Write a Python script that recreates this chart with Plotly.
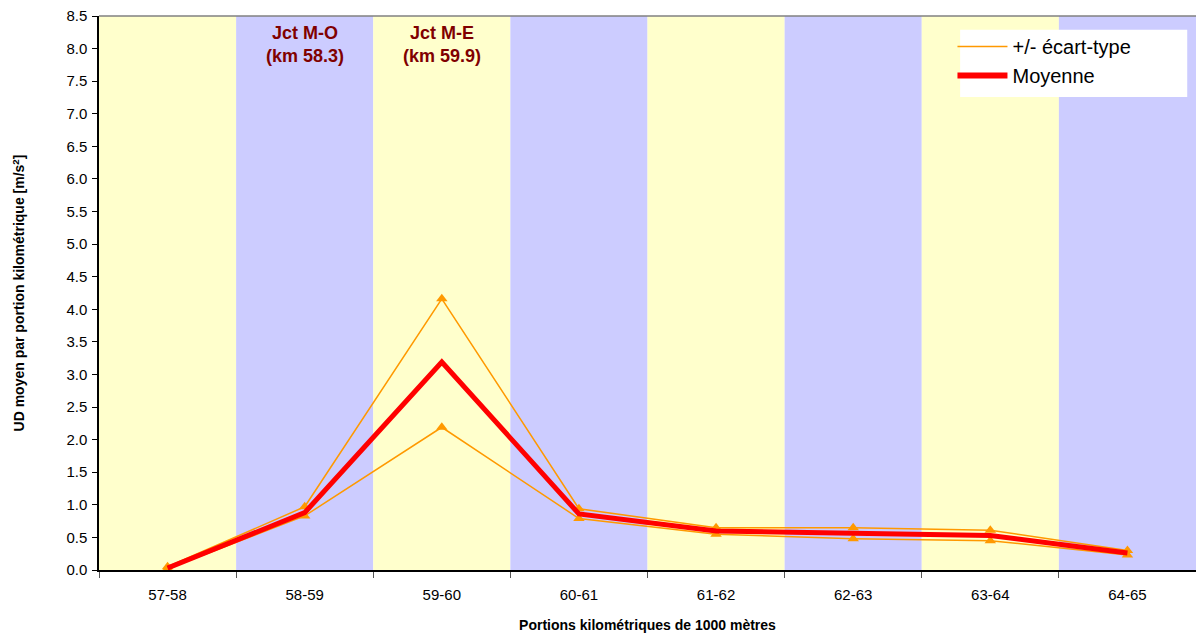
import plotly.graph_objects as go

categories = ["57-58", "58-59", "59-60", "60-61", "61-62", "62-63", "63-64", "64-65"]
mean_vals = [0.03, 0.88, 3.19, 0.86, 0.60, 0.56, 0.53, 0.26]
upper_vals = [0.05, 0.97, 4.16, 0.94, 0.65, 0.65, 0.61, 0.30]
lower_vals = [0.02, 0.83, 2.19, 0.79, 0.55, 0.48, 0.45, 0.23]
band_colors = ["#FFFFCC", "#CCCCFF"]
annotations_txt = [("58-59", "Jct M-O<br>(km 58.3)"), ("59-60", "Jct M-E<br>(km 59.9)")]

fig = go.Figure()

shapes = []
for i, c in enumerate(categories):
    shapes.append(dict(type="rect", xref="x", yref="paper", x0=i - 0.5, x1=i + 0.5, y0=0, y1=1,
                       fillcolor=band_colors[i % 2], line=dict(width=0), layer="below"))
shapes.append(dict(type="line", xref="paper", yref="paper", x0=0, x1=1, y0=1, y1=1,
                   line=dict(color="#808080", width=1.5)))
# legend box background
shapes.append(dict(type="rect", xref="paper", yref="paper", x0=0.785, x1=0.992, y0=0.854, y1=0.975,
                   fillcolor="white", line=dict(width=0), layer="above"))

orange = "#FF9900"
for vals in (upper_vals, lower_vals):
    fig.add_trace(go.Scatter(x=categories, y=vals, mode="lines+markers",
                             line=dict(color=orange, width=1.5),
                             marker=dict(symbol="triangle-up", size=10, color=orange),
                             showlegend=False, hoverinfo="skip"))
fig.add_trace(go.Scatter(x=categories, y=mean_vals, mode="lines",
                         line=dict(color="#FF0000", width=5), showlegend=False))

# legend-only traces
fig.add_trace(go.Scatter(x=[None], y=[None], mode="lines", name="+/- écart-type",
                         line=dict(color=orange, width=1.5)))
fig.add_trace(go.Scatter(x=[None], y=[None], mode="lines", name="Moyenne",
                         line=dict(color="#FF0000", width=6)))

annots = []
for cat, txt in annotations_txt:
    annots.append(dict(x=cat, y=8.42, xref="x", yref="y", text="<b>" + txt + "</b>",
                       showarrow=False, yanchor="top",
                       font=dict(family="Liberation Sans, Arial", size=18, color="#800000")))

fig.update_layout(
    width=1196, height=633,
    margin=dict(l=99, r=0, t=16, b=63),
    paper_bgcolor="white", plot_bgcolor="white",
    shapes=shapes, annotations=annots,
    font=dict(family="Liberation Sans, Arial", size=15, color="black"),
    legend=dict(x=0.778, y=0.98, xanchor="left", yanchor="top", bgcolor="rgba(0,0,0,0)",
                font=dict(size=20), itemwidth=50, tracegroupgap=0),
    xaxis=dict(type="category", range=[-0.5, 7.5], showgrid=False, showline=True,
               linecolor="black", linewidth=1.5, ticks="outside", tickson="boundaries",
               ticklen=6, tickcolor="#555555", ticklabelstandoff=10,
               title=dict(text="<b>Portions kilométriques de 1000 mètres</b>",
                          font=dict(size=14), standoff=18)),
    yaxis=dict(range=[0, 8.5], dtick=0.5, tickformat=".1f", showgrid=False, showline=True,
               linecolor="black", linewidth=1.5, ticks="outside", ticklen=5, tickcolor="black",
               zeroline=False, ticklabelstandoff=2,
               title=dict(text="<b>UD moyen par portion kilométrique [m/s<sup>2</sup>]</b>",
                          font=dict(size=14), standoff=38)),
)

fig.write_html("out.html", post_script="document.body.style.margin='0';",
               config={"displayModeBar": False})
